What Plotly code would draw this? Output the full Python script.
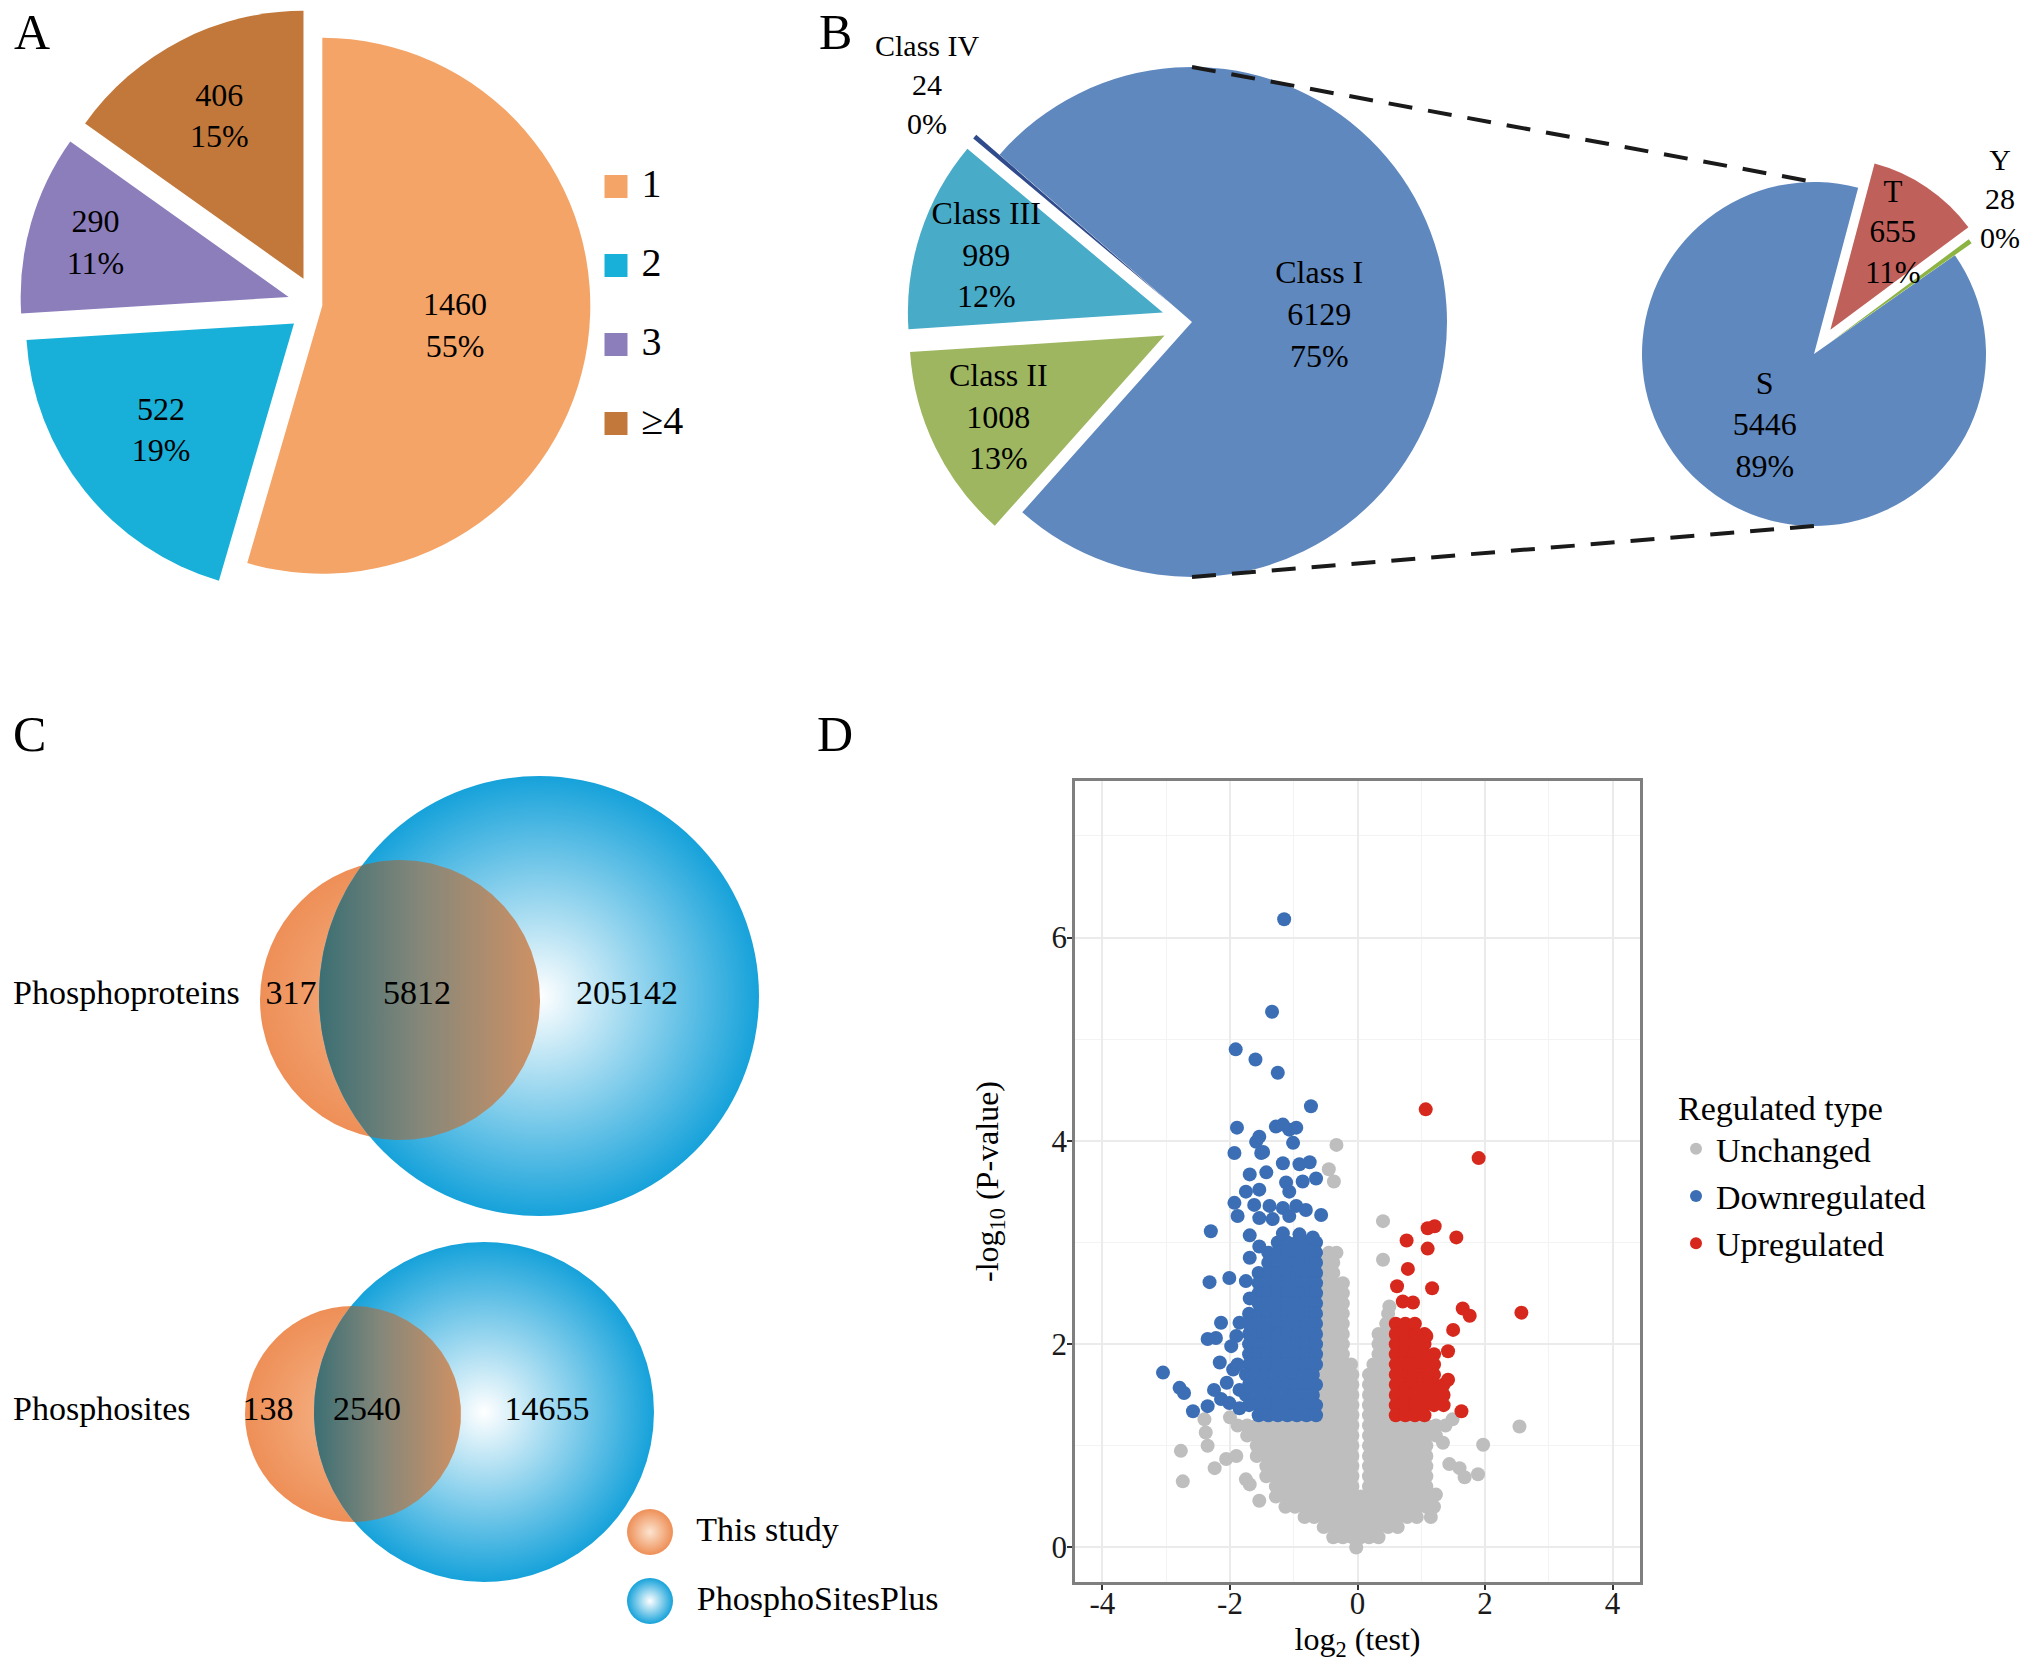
import math
import plotly.graph_objects as go

W, H = 2031, 1668
SERIF = "Liberation Serif"

# ---------------- Panel A: number of phosphosites per protein ----------------
a_labels = ["1", "2", "3", "≥4"]
a_values = [1460, 522, 290, 406]
a_pct = ["55%", "19%", "11%", "15%"]
a_colors = ["#F4A467", "#18B0D8", "#8C7DBB", "#C2783A"]

# ---------------- Panel B: localisation classes and residues ----------------
b_labels = ["Class I", "Class II", "Class III", "Class IV"]
b_values = [6129, 1008, 989, 24]
b_pct = ["75%", "13%", "12%", "0%"]
b_colors = ["#5F88BF", "#9DB65F", "#48ABC8", "#2F4B8C"]

site_labels = ["S", "T", "Y"]
site_values = [5446, 655, 28]
site_pct = ["89%", "11%", "0%"]
site_colors = ["#5F88BF", "#C0605A", "#8DB443"]

# ---------------- Panel C: overlap with PhosphoSitePlus ----------------
venn_rows = ["Phosphoproteins", "Phosphosites"]
venn_only_study = [317, 138]
venn_shared = [5812, 2540]
venn_only_psp = [205142, 14655]
venn_sets = ["This study", "PhosphoSitesPlus"]

# ---------------- Panel D: volcano plot ----------------
x_ticks = [-4, -2, 0, 2, 4]
y_ticks = [0, 2, 4, 6]
reg_types = ["Unchanged", "Downregulated", "Upregulated"]

# dense regions, one row per -log10(P) level: (y, [log2FC values])
gray_rows = [
    (2.9, [-0.45, -0.33]),
    (2.8, [-0.53, -0.38]),
    (2.7, [-0.53, -0.38]),
    (2.6, [-0.53, -0.38, -0.23]),
    (2.5, [-0.53, -0.38, -0.23]),
    (2.4, [-0.53, -0.38, -0.23]),
    (2.3, [-0.53, -0.38, -0.23, 0.48]),
    (2.2, [-0.53, -0.38, -0.23, 0.45]),
    (2.1, [-0.53, -0.38, -0.23, 0.33, 0.48]),
    (2.0, [-0.53, -0.38, -0.23, 0.33, 0.48]),
    (1.9, [-0.53, -0.38, -0.23, 0.33, 0.48]),
    (1.8, [-0.53, -0.38, -0.23, -0.1, 0.25, 0.4]),
    (1.7, [-0.53, -0.38, -0.23, -0.08, 0.18, 0.33, 0.48]),
    (1.6, [-0.53, -0.38, -0.23, -0.08, 0.18, 0.33, 0.48]),
    (1.5, [-0.53, -0.38, -0.23, -0.08, 0.18, 0.33, 0.48]),
    (1.4, [-0.53, -0.38, -0.23, -0.08, 0.18, 0.33, 0.48]),
    (1.3, [-0.53, -0.38, -0.23, -0.08, 0.18, 0.33, 0.48]),
    (1.2, [-1.88, -1.73, -1.58, -1.43, -1.28, -1.13, -0.98, -0.83, -0.68, -0.53, -0.38, -0.23, -0.08,
           0.18, 0.33, 0.48, 0.63, 0.78, 0.93, 1.08, 1.23, 1.38]),
    (1.1, [-1.73, -1.58, -1.43, -1.28, -1.13, -0.98, -0.83, -0.68, -0.53, -0.38, -0.23, -0.08,
           0.18, 0.33, 0.48, 0.63, 0.78, 0.93, 1.08, 1.23]),
    (1.0, [-1.58, -1.43, -1.28, -1.13, -0.98, -0.83, -0.68, -0.53, -0.38, -0.23, -0.08,
           0.18, 0.33, 0.48, 0.63, 0.78, 0.93, 1.08]),
    (0.9, [-1.58, -1.43, -1.28, -1.13, -0.98, -0.83, -0.68, -0.53, -0.38, -0.23, -0.08,
           0.18, 0.33, 0.48, 0.63, 0.78, 0.93, 1.08]),
    (0.8, [-1.43, -1.28, -1.13, -0.98, -0.83, -0.68, -0.53, -0.38, -0.23, -0.08,
           0.18, 0.33, 0.48, 0.63, 0.78, 0.93, 1.08]),
    (0.7, [-1.43, -1.28, -1.13, -0.98, -0.83, -0.68, -0.53, -0.38, -0.23, -0.08,
           0.18, 0.33, 0.48, 0.63, 0.78, 0.93, 1.08]),
    (0.6, [-1.28, -1.13, -0.98, -0.83, -0.68, -0.53, -0.38, -0.23, -0.08,
           0.18, 0.33, 0.48, 0.63, 0.78, 0.93, 1.08]),
    (0.5, [-1.28, -1.13, -0.98, -0.83, -0.68, -0.53, -0.38, -0.23, -0.08, 0.05,
           0.18, 0.33, 0.48, 0.63, 0.78, 0.93, 1.08]),
    (0.4, [-1.13, -0.98, -0.83, -0.68, -0.53, -0.38, -0.23, -0.08, 0.05,
           0.18, 0.33, 0.48, 0.63, 0.78, 0.93, 1.08]),
    (0.3, [-0.83, -0.68, -0.53, -0.38, -0.23, -0.08, 0.05, 0.18, 0.33, 0.48, 0.63, 0.78, 0.93]),
    (0.2, [-0.53, -0.38, -0.23, -0.08, 0.05, 0.18, 0.33, 0.48, 0.63]),
    (0.1, [-0.38, -0.23, -0.08, 0.05, 0.18, 0.33]),
    (0.0, [-0.02]),
]
gray_pts = [(-0.33, 3.96), (-0.45, 3.72), (-0.37, 3.6), (0.40, 3.21), (0.40, 2.83), (0.5, 2.37),
            (-2.40, 1.26), (-2.38, 1.13), (-2.35, 1.0), (-2.77, 0.95), (-2.74, 0.65), (-2.24, 0.78),
            (-2.06, 0.87), (-1.90, 0.90), (-1.75, 0.67), (-1.69, 0.62), (-1.54, 0.46), (-2.0, 1.28),
            (1.34, 1.03), (1.49, 1.26), (1.97, 1.01), (2.54, 1.19), (1.44, 0.82), (1.60, 0.78),
            (1.68, 0.69), (1.89, 0.72), (1.23, 0.52), (1.2, 0.4), (1.15, 0.3)]

down_rows = [
    (3.0, [-1.25, -1.1, -0.95, -0.8, -0.65]),
    (2.9, [-1.4, -1.25, -1.1, -0.95, -0.8, -0.65]),
    (2.8, [-1.4, -1.25, -1.1, -0.95, -0.8, -0.65]),
    (2.7, [-1.55, -1.4, -1.25, -1.1, -0.95, -0.8, -0.65]),
    (2.6, [-1.55, -1.4, -1.25, -1.1, -0.95, -0.8, -0.65]),
    (2.5, [-1.55, -1.4, -1.25, -1.1, -0.95, -0.8, -0.65]),
    (2.4, [-1.55, -1.4, -1.25, -1.1, -0.95, -0.8, -0.65]),
    (2.3, [-1.7, -1.55, -1.4, -1.25, -1.1, -0.95, -0.8, -0.65]),
    (2.2, [-1.7, -1.55, -1.4, -1.25, -1.1, -0.95, -0.8, -0.65]),
    (2.1, [-1.7, -1.55, -1.4, -1.25, -1.1, -0.95, -0.8, -0.65]),
    (2.0, [-1.7, -1.55, -1.4, -1.25, -1.1, -0.95, -0.8, -0.65]),
    (1.9, [-1.7, -1.55, -1.4, -1.25, -1.1, -0.95, -0.8, -0.65]),
    (1.8, [-1.7, -1.55, -1.4, -1.25, -1.1, -0.95, -0.8, -0.65]),
    (1.7, [-1.75, -1.6, -1.45, -1.3, -1.15, -1.0, -0.85, -0.7]),
    (1.6, [-1.7, -1.55, -1.4, -1.25, -1.1, -0.95, -0.8, -0.65]),
    (1.5, [-1.75, -1.6, -1.45, -1.3, -1.15, -1.0, -0.85, -0.7]),
    (1.4, [-1.7, -1.55, -1.4, -1.25, -1.1, -0.95, -0.8, -0.65]),
    (1.3, [-1.55, -1.4, -1.25, -1.1, -0.95, -0.8, -0.65]),
]
down_pts = [(-1.15, 6.18), (-1.34, 5.27), (-1.91, 4.90), (-1.60, 4.80), (-1.25, 4.67), (-0.73, 4.34),
            (-1.89, 4.13), (-1.28, 4.14), (-1.17, 4.16), (-1.07, 4.11), (-0.96, 4.13), (-1.01, 3.98),
            (-1.59, 3.99), (-1.48, 3.89), (-1.54, 4.04), (-1.93, 3.88), (-1.51, 3.88), (-1.17, 3.78),
            (-0.91, 3.77), (-0.75, 3.79), (-1.69, 3.67), (-1.43, 3.69), (-1.12, 3.59), (-0.86, 3.60),
            (-0.65, 3.63), (-1.75, 3.50), (-1.54, 3.52), (-1.07, 3.50), (-1.93, 3.39), (-1.62, 3.37),
            (-1.38, 3.36), (-1.17, 3.34), (-0.96, 3.36), (-0.81, 3.32), (-0.57, 3.27), (-1.88, 3.26),
            (-1.54, 3.24), (-1.33, 3.23), (-1.07, 3.26), (-2.30, 3.11), (-1.69, 3.07), (-1.17, 3.09),
            (-0.91, 3.08), (-0.70, 3.05), (-1.54, 2.96), (-1.69, 2.85), (-2.32, 2.61), (-2.01, 2.65),
            (-1.75, 2.62), (-1.69, 2.45), (-2.14, 2.21), (-2.35, 2.05), (-2.22, 2.06), (-1.85, 2.21),
            (-1.90, 2.08), (-2.16, 1.82), (-3.05, 1.72), (-2.79, 1.57), (-2.72, 1.52), (-2.58, 1.34),
            (-2.35, 1.39), (-2.14, 1.46), (-2.01, 1.42), (-1.85, 1.37), (-2.05, 1.62), (-1.95, 1.75),
            (-2.25, 1.55), (-1.98, 1.98), (-1.85, 1.55), (-1.88, 1.8)]

up_rows = [
    (2.2, [0.6, 0.75, 0.9]),
    (2.1, [0.6, 0.75, 0.9, 1.05]),
    (2.0, [0.6, 0.75, 0.9, 1.05]),
    (1.9, [0.6, 0.75, 0.9, 1.05, 1.2]),
    (1.8, [0.6, 0.75, 0.9, 1.05, 1.2]),
    (1.7, [0.6, 0.75, 0.9, 1.05, 1.2]),
    (1.6, [0.6, 0.75, 0.9, 1.05, 1.2, 1.35]),
    (1.5, [0.6, 0.75, 0.9, 1.05, 1.2, 1.35]),
    (1.4, [0.6, 0.75, 0.9, 1.05, 1.2, 1.35]),
    (1.3, [0.6, 0.75, 0.9, 1.05]),
]
up_pts = [(1.07, 4.31), (1.90, 3.83), (1.10, 3.14), (1.21, 3.16), (1.55, 3.05), (0.77, 3.02),
          (1.10, 2.94), (0.79, 2.74), (0.62, 2.57), (1.17, 2.55), (0.71, 2.42), (0.87, 2.41),
          (1.65, 2.35), (1.76, 2.28), (2.57, 2.31), (1.50, 2.14), (1.42, 1.93), (1.23, 1.55),
          (1.42, 1.65), (1.63, 1.34), (1.08, 2.08), (0.92, 2.09)]


def flatten(rows, pts):
    xs, ys = [], []
    for yv, row in rows:
        for xv in row:
            xs.append(xv)
            ys.append(yv)
    for xv, yv in pts:
        xs.append(xv)
        ys.append(yv)
    return xs, ys


gray_x, gray_y = flatten(gray_rows, gray_pts)
down_x, down_y = flatten(down_rows, down_pts)
up_x, up_y = flatten(up_rows, up_pts)

# ---------------- layout geometry (pixels) ----------------
PIE_A = dict(cx=317, cy=305, r=268)
PIE_B = dict(cx=1192, cy=322, r=255)
PIE_S = dict(cx=1814, cy=354, r=172)
a_pull = [0.02, 0.11, 0.11, 0.11]
b_pull = [0.0, 0.12, 0.12, 0.12]
s_pull = [0.0, 0.17, 0.12]


def pie_domain(g, pulls):
    half = g["r"] * (1 + max(pulls))
    return dict(x=[(g["cx"] - half) / W, (g["cx"] + half) / W],
                y=[1 - (g["cy"] + half) / H, 1 - (g["cy"] - half) / H])


def px(x, y):
    return x / W, 1 - y / H


pie_font = dict(family=SERIF, size=32, color="black")

fig = go.Figure()

fig.add_trace(go.Pie(
    labels=a_labels, values=a_values, text=a_pct, texttemplate="%{value}<br>%{text}",
    sort=False, direction="clockwise", rotation=0, pull=a_pull,
    marker=dict(colors=a_colors, line=dict(width=0)), domain=pie_domain(PIE_A, a_pull),
    textposition="inside", insidetextorientation="horizontal", textfont=pie_font,
    showlegend=False, hoverinfo="label+value"))

fig.add_trace(go.Pie(
    labels=b_labels, values=b_values, text=b_pct, texttemplate="%{label}<br>%{value}<br>%{text}",
    sort=False, direction="clockwise", rotation=311, pull=b_pull,
    marker=dict(colors=b_colors, line=dict(width=0)), domain=pie_domain(PIE_B, b_pull),
    textposition=["inside", "inside", "inside", "none"], insidetextorientation="horizontal",
    textfont=pie_font, showlegend=False, hoverinfo="label+value"))

fig.add_trace(go.Pie(
    labels=site_labels, values=site_values, text=site_pct,
    texttemplate="%{label}<br>%{value}<br>%{text}",
    sort=False, direction="clockwise", rotation=55, pull=s_pull,
    marker=dict(colors=site_colors, line=dict(width=0)), domain=pie_domain(PIE_S, s_pull),
    textposition=["inside", "none", "none"], insidetextorientation="horizontal",
    textfont=pie_font, showlegend=False, hoverinfo="label+value"))

# labels of the small slices, placed like in the figure
small_labels = [(b_labels[3], b_values[3], b_pct[3], 927, 84, 30),
                (site_labels[1], site_values[1], site_pct[1], 1893, 232, 31),
                (site_labels[2], site_values[2], site_pct[2], 2000, 198, 30)]
for lab, val, pct, lx, ly, fs in small_labels:
    fx, fy = px(lx, ly)
    fig.add_annotation(x=fx, y=fy, xref="paper", yref="paper", showarrow=False,
                       text=f"{lab}<br>{val}<br>{pct}", align="center",
                       xanchor="center", yanchor="middle",
                       font=dict(family=SERIF, size=fs, color="black"))

# zoom connector lines between the two pies of panel B
for sgn in (-1, 1):
    x0, y0 = px(PIE_B["cx"], PIE_B["cy"] + sgn * PIE_B["r"])
    x1, y1 = px(PIE_S["cx"], PIE_S["cy"] + sgn * PIE_S["r"])
    fig.add_shape(type="line", xref="paper", yref="paper", x0=x0, y0=y0, x1=x1, y1=y1,
                  line=dict(color="#1a1a1a", width=4, dash="24px,16px"))

# legend of panel A (own small axis, categories)
fig.add_trace(go.Scatter(
    x=[0] * len(a_labels), y=a_labels, mode="markers+text", text=[" " + s for s in a_labels],
    textposition="middle right", textfont=dict(family=SERIF, size=40, color="black"),
    marker=dict(symbol="square", size=23, color=a_colors), cliponaxis=False,
    showlegend=False, hoverinfo="skip", xaxis="x3", yaxis="y3"))

# ---------------- Panel C: Venn diagrams ----------------
VENN = [
    dict(blue=(539, 996, 220), orange=(400, 1000, 140), row_y=995,
         lab_x=(291, 417, 627)),
    dict(blue=(484, 1412, 170), orange=(353, 1414, 108), row_y=1411,
         lab_x=(268, 367, 547)),
]
BLUE_EDGE, BLUE_CENTER = "#16A2DA", "#FFFFFF"
ORANGE_EDGE, ORANGE_CENTER = "#EE8F57", "#F6B78C"


def lens(c1, r1, c2, r2, n=360):
    pts = []
    for k in range(n):
        t = 2 * math.pi * k / n
        p = (c1[0] + r1 * math.cos(t), c1[1] + r1 * math.sin(t))
        if math.hypot(p[0] - c2[0], p[1] - c2[1]) <= r2:
            pts.append(p)
        q = (c2[0] + r2 * math.cos(t), c2[1] + r2 * math.sin(t))
        if math.hypot(q[0] - c1[0], q[1] - c1[1]) <= r1:
            pts.append(q)
    mx = sum(p[0] for p in pts) / len(pts)
    my = sum(p[1] for p in pts) / len(pts)
    pts.sort(key=lambda p: math.atan2(p[1] - my, p[0] - mx))
    pts.append(pts[0])
    return [p[0] for p in pts], [p[1] for p in pts]


for i, g in enumerate(VENN):
    ox, oy, orad = g["orange"]
    bx, by, brad = g["blue"]
    fig.add_trace(go.Scatter(
        x=[ox], y=[oy], mode="markers",
        marker=dict(size=2 * orad, color=ORANGE_EDGE, line=dict(width=0),
                    gradient=dict(type="radial", color=ORANGE_CENTER)),
        showlegend=False, hoverinfo="skip", xaxis="x2", yaxis="y2"))
    fig.add_trace(go.Scatter(
        x=[bx], y=[by], mode="markers",
        marker=dict(size=2 * brad, color=BLUE_EDGE, line=dict(width=0),
                    gradient=dict(type="radial", color=BLUE_CENTER)),
        showlegend=False, hoverinfo="skip", xaxis="x2", yaxis="y2"))
    lx, ly = lens((ox, oy), orad, (bx, by), brad)
    fig.add_trace(go.Scatter(
        x=lx, y=ly, mode="lines", line=dict(width=0), fill="toself",
        fillgradient=dict(type="horizontal",
                          colorscale=[[0, "#3C6F73"], [0.45, "#84877A"], [1, "#CF9164"]]),
        showlegend=False, hoverinfo="skip", xaxis="x2", yaxis="y2"))
    fig.add_trace(go.Scatter(
        x=[13], y=[g["row_y"]], mode="text", text=[venn_rows[i]], textposition="middle right",
        textfont=dict(family=SERIF, size=34, color="black"),
        showlegend=False, hoverinfo="skip", xaxis="x2", yaxis="y2"))
    fig.add_trace(go.Scatter(
        x=list(g["lab_x"]), y=[g["row_y"]] * 3, mode="text",
        text=[str(venn_only_study[i]), str(venn_shared[i]), str(venn_only_psp[i])],
        textposition="middle center", textfont=dict(family=SERIF, size=34, color="black"),
        showlegend=False, hoverinfo="skip", xaxis="x2", yaxis="y2"))

# legend of panel C
fig.add_trace(go.Scatter(
    x=[650, 650], y=[1532, 1601], mode="markers+text", text=["  " + s for s in venn_sets],
    textposition="middle right", textfont=dict(family=SERIF, size=34, color="black"),
    marker=dict(size=46, color=[ORANGE_EDGE, BLUE_EDGE], line=dict(width=0),
                gradient=dict(type="radial", color=["#FCE4D0", "#FFFFFF"])),
    showlegend=False, hoverinfo="skip", xaxis="x2", yaxis="y2", cliponaxis=False))

# ---------------- Panel D: volcano ----------------
for name, xs, ys, col in [(reg_types[0], gray_x, gray_y, "#BEBEBE"),
                          (reg_types[1], down_x, down_y, "#3B6EB4"),
                          (reg_types[2], up_x, up_y, "#D7281D")]:
    fig.add_trace(go.Scatter(x=xs, y=ys, mode="markers", name=name,
                             marker=dict(color=col, size=14, line=dict(width=0)),
                             xaxis="x", yaxis="y"))

axis_font = dict(family=SERIF, size=31, color="#1a1a1a")
title_font = dict(family=SERIF, size=32, color="black")

fig.update_layout(
    width=W, height=H, margin=dict(l=0, r=0, t=0, b=0),
    paper_bgcolor="white", plot_bgcolor="rgba(0,0,0,0)",
    font=dict(family=SERIF, color="black"),
    uniformtext=dict(minsize=32, mode="show"),
    xaxis=dict(domain=[1075 / W, 1640 / W], anchor="y", range=[-4.43, 4.43],
               tickmode="array", tickvals=x_ticks, ticktext=[str(v) for v in x_ticks],
               showgrid=True, gridcolor="#EBEBEB", gridwidth=2,
               minor=dict(tickvals=[-3, -1, 1, 3], showgrid=True, gridcolor="#F3F3F3", gridwidth=1),
               zeroline=False, showline=True, mirror=True, linecolor="#7F7F7F", linewidth=2.5,
               ticks="outside", ticklen=5, tickwidth=2, tickcolor="#333333", tickfont=axis_font,
               ticklabelstandoff=-13,
               title=dict(text="log<sub>2</sub> (test)", font=title_font, standoff=0)),
    yaxis=dict(domain=[1 - 1582 / H, 1 - 781 / H], anchor="x", range=[-0.34, 7.54],
               tickmode="array", tickvals=y_ticks, ticktext=[str(v) for v in y_ticks],
               showgrid=True, gridcolor="#EBEBEB", gridwidth=2,
               minor=dict(tickvals=[1, 3, 5, 7], showgrid=True, gridcolor="#F3F3F3", gridwidth=1),
               zeroline=False, showline=True, mirror=True, linecolor="#7F7F7F", linewidth=2.5,
               ticks="outside", ticklen=5, tickwidth=2, tickcolor="#333333", tickfont=axis_font,
               ticklabelstandoff=-6,
               title=dict(text="-log<sub>10</sub> (P-value)", font=title_font, standoff=44)),
    xaxis2=dict(domain=[0, 1015 / W], anchor="y2", range=[0, 1015], visible=False),
    yaxis2=dict(domain=[0, 1 - 770 / H], anchor="x2", range=[1668, 770], visible=False),
    xaxis3=dict(domain=[596 / W, 636 / W], anchor="y3", range=[-1, 1], visible=False),
    yaxis3=dict(domain=[1 - 463 / H, 1 - 147 / H], anchor="x3", type="category",
                categoryarray=a_labels, range=[3.5, -0.5], visible=False),
    legend=dict(x=1676 / W, y=1 - 1076 / H, xanchor="left", yanchor="top",
                title=dict(text="Regulated type", font=dict(family=SERIF, size=34, color="black")),
                font=dict(family=SERIF, size=34, color="black"), itemsizing="constant",
                bgcolor="rgba(0,0,0,0)"),
)

for letter, (lx, ly) in zip("ABCD", [(32, 32), (835, 32), (29, 734), (835, 734)]):
    fx, fy = px(lx, ly)
    fig.add_annotation(x=fx, y=fy, xref="paper", yref="paper", text=letter, showarrow=False,
                       xanchor="center", yanchor="middle",
                       font=dict(family=SERIF, size=50, color="black"))

fig.write_html("out.html", config={"displayModeBar": False},
               post_script="document.body.style.margin='0px';"
                           "document.body.style.padding='0px';"
                           "document.documentElement.style.overflow='hidden';")
